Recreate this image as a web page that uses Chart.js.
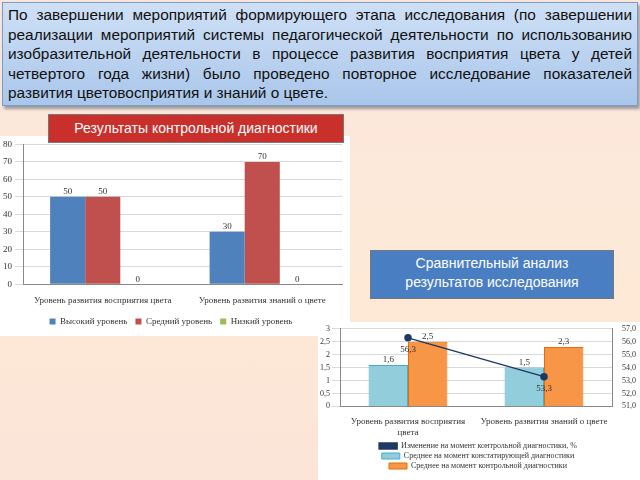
<!DOCTYPE html>
<html><head><meta charset="utf-8">
<script src="https://cdn.jsdelivr.net/npm/chart.js@4"></script>
<style>
body{margin:0;width:640px;height:480px;overflow:hidden;font-family:"Liberation Serif",serif;
 background:linear-gradient(#fbe6de,#fde9d6 60%,#fbe4d8);position:relative}
#hdr{position:absolute;left:2px;top:2px;width:624px;height:98px;padding:2px 5px;
 background:linear-gradient(#cfe0f6,#a9c6ea);border:1px solid #7a9cc8;box-shadow:2px 3px 3px #999;
 font-family:"Liberation Sans",Arial,sans-serif;font-size:15.4px;line-height:19.6px;text-align:justify;color:#111}
.box{position:absolute;color:#fff;font-family:"Liberation Sans",Arial,sans-serif;text-align:center;border:1px solid #777}
#t1{left:48px;top:114px;width:294px;height:27px;line-height:27px;font-size:14px;background:#c9302c}
#t2{left:370px;top:250px;width:242px;height:44px;line-height:19px;padding-top:3px;font-size:14px;background:#4a7ec3}
#w1{position:absolute;left:0;top:136px;width:350px;height:200px;background:#fff}
#w2{position:absolute;left:318px;top:322px;width:322px;height:158px;background:#fff}
</style></head><body>
<div id="hdr">По завершении мероприятий формирующего этапа исследования (по завершении реализации мероприятий системы педагогической деятельности по использованию изобразительной деятельности в процессе развития восприятия цвета у детей четвертого года жизни) было проведено повторное исследование показателей развития цветовосприятия и знаний о цвете.</div>
<div id="w1"><canvas id="c1" width="350" height="200"></canvas></div>
<div class="box" id="t1">Результаты контрольной диагностики</div>
<div class="box" id="t2">Сравнительный анализ<br>результатов исследования</div>
<div id="w2"><canvas id="c2" width="322" height="158"></canvas></div>
<script>
const cats = ["Уровень развития восприятия цвета", "Уровень развития знаний о цвете"];
const high = [50, 30];
const mid = [50, 70];
const low = [0, 0];
const cats2 = [["Уровень развития восприятия", "цвета"], "Уровень развития знаний о цвете"];
const before = [1.6, 1.5];
const after = [2.5, 2.3];
const change = [56.3, 53.3];

Chart.defaults.font = {family: "Liberation Serif", size: 9};
Chart.defaults.color = "#333";

const labels = {
  id: "labels",
  afterDatasetsDraw(chart) {
    const ctx = chart.ctx;
    ctx.save();
    ctx.font = "9px Liberation Serif";
    ctx.fillStyle = "#333";
    ctx.textAlign = "center";
    chart.data.datasets.forEach((ds, i) => {
      chart.getDatasetMeta(i).data.forEach((el, j) => {
        const t = String(ds.data[j]).replace(".", ",");
        const dy = ds.type === "line" ? 12 : -5;
        ctx.fillText(t, el.x, el.y + dy);
      });
    });
    ctx.restore();
  }
};

new Chart(document.getElementById("c1"), {
  type: "bar",
  data: {labels: cats, datasets: [
    {label: "Высокий уровень", data: high, backgroundColor: "#4f81bd"},
    {label: "Средний уровень", data: mid, backgroundColor: "#c0504d"},
    {label: "Низкий уровень", data: low, backgroundColor: "#9bbb59"}
  ]},
  options: {
    responsive: false, animation: false,
    layout: {padding: {top: 4, right: 8}},
    datasets: {bar: {categoryPercentage: 0.66, barPercentage: 1}},
    scales: {
      y: {min: 0, max: 80, ticks: {stepSize: 10}, grid: {color: "#d9d9d9"}, border: {color: "#888"}},
      x: {grid: {display: false}, border: {color: "#888"}, ticks: {maxRotation: 0}}
    },
    plugins: {
      legend: {position: "bottom", labels: {boxWidth: 6, boxHeight: 6, padding: 8}},
      tooltip: {enabled: false}
    }
  },
  plugins: [labels]
});

new Chart(document.getElementById("c2"), {
  data: {labels: cats2, datasets: [
    {type: "bar", label: "Среднее на момент констатирующей диагностики", data: before, backgroundColor: "#92cddc", borderColor: "#4bacc6", borderWidth: 1, order: 1},
    {type: "bar", label: "Среднее на момент контрольной диагностики", data: after, backgroundColor: "#f79646", borderColor: "#e46c0a", borderWidth: 1, order: 1},
    {type: "line", label: "Изменение на момент контрольной диагностики, %", data: change, yAxisID: "y2",
     borderColor: "#1f3864", backgroundColor: "#1f3864", pointRadius: 3, borderWidth: 1.5, order: 0}
  ]},
  options: {
    responsive: false, animation: false,
    layout: {padding: {top: 2, right: 2}},
    datasets: {bar: {categoryPercentage: 0.58, barPercentage: 1}},
    scales: {
      y: {min: 0, max: 3, ticks: {stepSize: 0.5, autoSkip: false, padding: 2, font: {size: 8}, callback: v => String(v).replace(".", ",")}, grid: {color: "#d9d9d9"}, border: {color: "#888"}},
      y2: {position: "right", min: 51, max: 57, ticks: {stepSize: 1, autoSkip: false, padding: 2, font: {size: 8}, callback: v => v.toFixed(1).replace(".", ",")}, grid: {display: false}, border: {color: "#888"}},
      x: {grid: {display: false}, border: {color: "#888"}, ticks: {maxRotation: 0, padding: 2}}
    },
    plugins: {
      legend: {position: "bottom", labels: {boxWidth: 18, boxHeight: 6, padding: 2, font: {size: 8}}},
      tooltip: {enabled: false}
    }
  },
  plugins: [labels]
});
</script>
</body></html>
